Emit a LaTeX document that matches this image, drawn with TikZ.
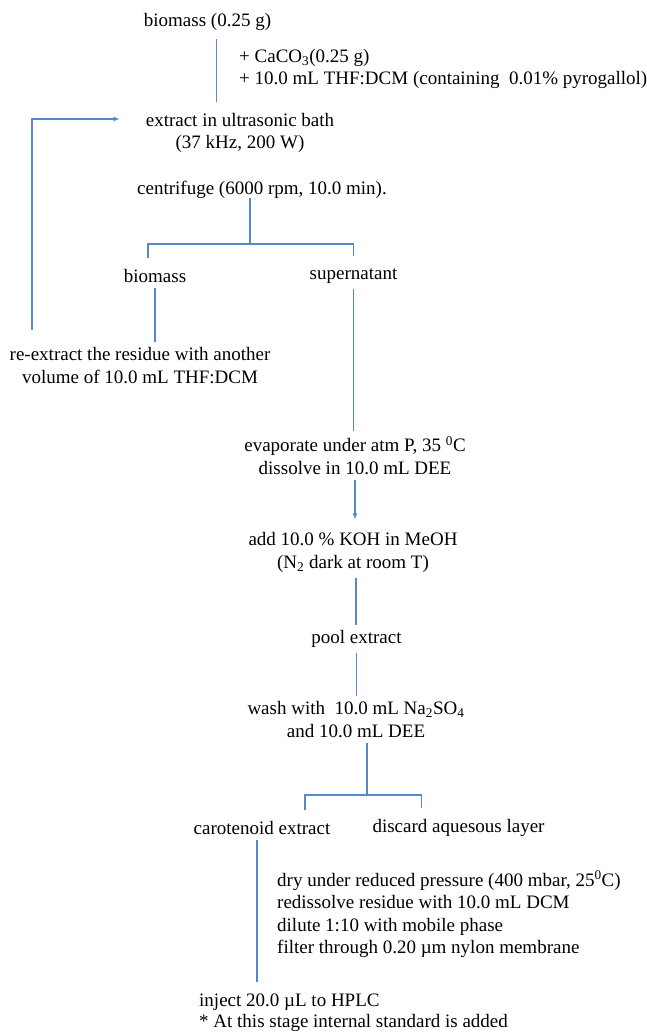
\documentclass[tikz,border=0pt]{standalone}
\usepackage{fontspec}
\setmainfont{Liberation Serif}
\usepackage{xcolor}
\definecolor{flowblue}{RGB}{90,135,200}
\usetikzlibrary{arrows.meta}

\begin{document}
\begin{tikzpicture}[
  x=1pt, y=-1pt,
  every node/.style = {inner xsep=2pt, inner ysep=5pt, align=center,
    font=\fontsize{19}{22.5}\selectfont},
  flow/.style = {draw=flowblue, line width=1.2pt},
  flowarrow/.style = {flow, -{Latex[length=6pt,width=5pt]}}]
  \useasboundingbox (0,0) rectangle (646,1032);

  % steps
  \node (bio) at (207.5,22) {biomass (0.25 g)};
  \node[anchor=west, align=left] (add) at (237,69)
    {+ CaCO\textsubscript{3}(0.25 g)\\
     + 10.0 mL THF:DCM (containing\ \ 0.01\% pyrogallol)};
  \node (ext) at (240,133) {extract in ultrasonic bath\\(37 kHz, 200 W)};
  \node (cen) at (262,190) {centrifuge (6000 rpm, 10.0 min).};
  \node (bio2) at (155,276) {biomass};
  \node (sup) at (353.5,276) {supernatant};
  \node (rex) at (140,365.5)
    {re-extract the residue with another\\volume of 10.0 mL THF:DCM};
  \node (eva) at (355,455.5)
    {evaporate under atm P, 35 \textsuperscript{0}C\\dissolve in 10.0 mL DEE};
  \node (koh) at (353,552.5)
    {add 10.0 \% KOH in MeOH\\(N\textsubscript{2} dark at room T)};
  \node (pool) at (356.5,639) {pool extract};
  \node (wash) at (356,719.5)
    {wash with\ \ 10.0 mL Na\textsubscript{2}SO\textsubscript{4}\\and 10.0 mL DEE};
  \node (car) at (262,828) {carotenoid extract};
  \node (dis) at (458.5,827.5) {discard aquesous layer};
  \node[anchor=west, align=left] (dry) at (275,914.5)
    {dry under reduced pressure (400 mbar, 25\textsuperscript{0}C)\\
     redissolve residue with 10.0 mL DCM\\
     dilute 1:10 with mobile phase\\
     filter through 0.20 µm nylon membrane};
  \node[anchor=west, align=left, font=\fontsize{19}{21}\selectfont] (inj) at (197,1012.5)
    {inject 20.0 µL to HPLC\\* At this stage internal standard is added};

  % branch points
  \coordinate (s1) at (250,244);
  \coordinate (s2) at (367,795);
  \coordinate (loop) at (32,330);

  % connectors
  \draw[flow, shorten <=3pt, shorten >=6pt] ([xshift=9pt]bio.south) -- ([xshift=9pt]bio.south |- ext.north);
  \draw[flowarrow] (loop) |- ([xshift=-24pt,yshift=14pt]ext.west);
  \draw[flow] ([yshift=6pt]cen.south -| s1) -- (s1);
  \draw[flow] ([xshift=-7pt,yshift=6pt]bio2.north) |- (s1) -| ([yshift=7pt]sup.north);
  \draw[flow] (bio2.south) -- (bio2.south |- rex.north);
  \draw[flow] (sup.south) -- (sup.south |- eva.north);
  \draw[flowarrow, shorten >=8pt] (eva.south) -- (eva.south |- koh.north);
  \draw[flow] ([xshift=3pt]koh.south) -- ([xshift=3pt]koh.south |- pool.north);
  \draw[flow] (pool.south) -- (pool.south |- wash.north);
  \draw[flow] (wash.south -| s2) -- (s2);
  \draw[flow] ([xshift=43pt,yshift=6pt]car.north) |- (s2) -| ([xshift=-37pt,yshift=6pt]dis.north);
  \draw[flow, shorten >=6pt] ([xshift=-5pt]car.south) -- ([xshift=-5pt]car.south |- inj.north);
\end{tikzpicture}
\end{document}
